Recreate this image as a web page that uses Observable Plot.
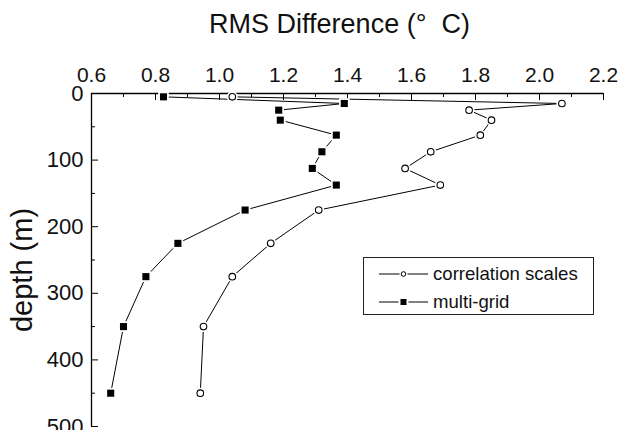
<!DOCTYPE html>
<html>
<head>
<meta charset="utf-8">
<script src="https://cdn.jsdelivr.net/npm/d3@7"></script>
<script src="https://cdn.jsdelivr.net/npm/@observablehq/plot@0.6"></script>
<style>
  body { margin: 0; background: #fff; }
  #chart { position: relative; width: 619px; height: 430px; overflow: hidden; background: #fff;
           font-family: "Liberation Sans", Arial, sans-serif; color: #111; }
  #chart svg { display: block; }
  .legend { position: absolute; left: 363px; top: 257px; width: 231px; height: 58px;
            box-sizing: border-box; border: 1px solid #222; background: #fff; }
  .legend .row { position: absolute; left: 15px; height: 20px; display: flex; align-items: center;
                 font-size: 18.6px; line-height: 20px; white-space: nowrap; }
  .legend .row svg { margin-right: 5px; }
</style>
</head>
<body>
<div id="chart"></div>
<script>
// Standard layer-midpoint depths (m)
const depths = [5, 15, 25, 40, 62.5, 87.5, 112.5, 137.5, 175, 225, 275, 350, 450];
// RMS difference (°C) for each method
const correlationScales = [1.04, 2.07, 1.78, 1.85, 1.815, 1.66, 1.58, 1.69, 1.31, 1.16, 1.04, 0.95, 0.94];
const multiGrid = [0.825, 1.39, 1.185, 1.19, 1.365, 1.32, 1.29, 1.365, 1.08, 0.87, 0.77, 0.70, 0.66];

const seriesNames = ["correlation scales", "multi-grid"];
const xTicks = [0.6, 0.8, 1.0, 1.2, 1.4, 1.6, 1.8, 2.0, 2.2];
const xMinorTicks = [0.7, 0.9, 1.1, 1.3, 1.5, 1.7, 1.9, 2.1];
const yTicks = [0, 100, 200, 300, 400, 500];
const yMinorTicks = [50, 150, 250, 350, 450];

const corr = depths.map((d, i) => ({depth: d, rms: correlationScales[i]}));
const multi = depths.map((d, i) => ({depth: d, rms: multiGrid[i]}));

const plot = Plot.plot({
  width: 619,
  height: 430,
  marginTop: 93,
  marginLeft: 91,
  marginRight: 16,
  marginBottom: 4,
  style: {fontFamily: "'Liberation Sans', Arial, sans-serif", color: "#111", background: "#fff"},
  x: {domain: [0.6, 2.2]},
  y: {domain: [0, 500], reverse: true},
  marks: [
    // frame: top and left axis lines
    Plot.ruleY([0], {stroke: "#000", strokeWidth: 1.3}),
    Plot.ruleX([0.6], {stroke: "#000", strokeWidth: 1.3}),
    // inward ticks
    Plot.ruleX(xTicks, {x: d => d, y1: 0, y2: 0, insetBottom: -7, stroke: "#000"}),
    Plot.ruleX(xMinorTicks, {x: d => d, y1: 0, y2: 0, insetBottom: -4, stroke: "#000"}),
    Plot.ruleY(yTicks, {y: d => d, x1: 0.6, x2: 0.6, insetRight: -7, stroke: "#000"}),
    Plot.ruleY(yMinorTicks, {y: d => d, x1: 0.6, x2: 0.6, insetRight: -4, stroke: "#000"}),
    Plot.axisX({anchor: "top", ticks: xTicks, tickSize: 0, tickPadding: 12, fontSize: 21,
                tickFormat: d3.format(".1f"), label: null}),
    Plot.axisY({anchor: "left", ticks: yTicks, tickSize: 0, tickPadding: 8, fontSize: 22,
                label: null}),
    // axis titles
    Plot.text(["RMS Difference (°\u00a0 C)"], {frameAnchor: "top", lineAnchor: "middle", dx: -8, dy: -69.5,
                                               fontSize: 27, fill: "#111"}),
    Plot.text(["depth (m)"], {frameAnchor: "left", textAnchor: "middle", lineAnchor: "middle", rotate: -90,
                              dx: -69, dy: 10, fontSize: 29, fill: "#111"}),
    // series lines
    Plot.line(corr, {x: "rms", y: "depth", stroke: "#000", strokeWidth: 1}),
    Plot.line(multi, {x: "rms", y: "depth", stroke: "#000", strokeWidth: 1}),
    // white halos to leave a gap between segments and symbols
    Plot.dot(corr, {x: "rms", y: "depth", r: 5.5, fill: "#fff", stroke: "none"}),
    Plot.dot(multi, {x: "rms", y: "depth", r: 6, symbol: "square", fill: "#fff", stroke: "none"}),
    // symbols
    Plot.dot(corr, {x: "rms", y: "depth", r: 3.3, fill: "#fff", stroke: "#000", strokeWidth: 1.1}),
    Plot.dot(multi, {x: "rms", y: "depth", r: 4, symbol: "square", fill: "#000", stroke: "none"})
  ]
});

const chart = document.getElementById("chart");
chart.appendChild(plot);

// legend box
const legend = document.createElement("div");
legend.className = "legend";
const sampleSvg = (kind) => {
  const s = d3.create("svg").attr("width", 49).attr("height", 12);
  s.append("line").attr("x1", 0).attr("x2", 49).attr("y1", 6).attr("y2", 6).attr("stroke", "#000");
  if (kind === 0) {
    s.append("circle").attr("cx", 24.5).attr("cy", 6).attr("r", 4).attr("fill", "#fff");
    s.append("circle").attr("cx", 24.5).attr("cy", 6).attr("r", 2.3).attr("fill", "#fff").attr("stroke", "#000");
  } else {
    s.append("rect").attr("x", 19.5).attr("y", 1).attr("width", 10).attr("height", 10).attr("fill", "#fff");
    s.append("rect").attr("x", 21.5).attr("y", 3).attr("width", 6).attr("height", 6).attr("fill", "#000");
  }
  return s.node();
};
seriesNames.forEach((name, i) => {
  const row = document.createElement("div");
  row.className = "row";
  row.style.top = (i === 0 ? 6 : 34) + "px";
  row.appendChild(sampleSvg(i));
  row.appendChild(document.createTextNode(name));
  legend.appendChild(row);
});
chart.appendChild(legend);
</script>
</body>
</html>
